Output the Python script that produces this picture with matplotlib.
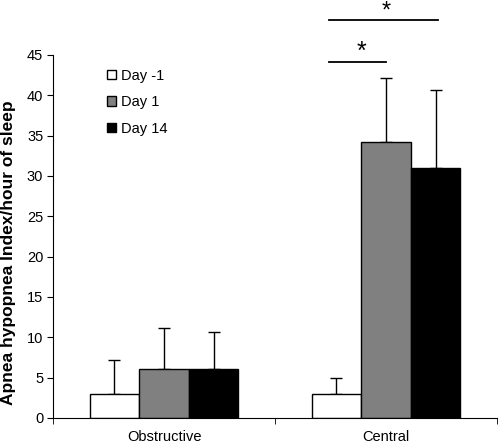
import numpy as np
import matplotlib
matplotlib.use('Agg')
import matplotlib.pyplot as plt

plt.rcParams['font.family'] = ['Liberation Sans', 'DejaVu Sans']

categories = ['Obstructive', 'Central']
series = ['Day -1', 'Day 1', 'Day 14']
means = {
    'Day -1': [3.0, 3.0],
    'Day 1': [6.0, 34.2],
    'Day 14': [6.1, 31.0],
}
errs = {
    'Day -1': [4.2, 1.9],
    'Day 1': [5.2, 7.9],
    'Day 14': [4.6, 9.7],
}
colors = ['white', '#808080', 'black']

fig = plt.figure(figsize=(5.0, 4.46), dpi=100)
ax = fig.add_axes([0.106, 0.063, 0.888, 0.814])

x = np.arange(len(categories))
width = 0.223
offsets = [-width, 0, width]

for name, off, c in zip(series, offsets, colors):
    ax.bar(x + off, means[name], width, color=c, edgecolor='black', linewidth=1,
           label=name, zorder=2)
    ax.errorbar(x + off, means[name], yerr=[np.zeros(len(x)), errs[name]],
                fmt='none', ecolor='black', elinewidth=1, capsize=4, capthick=1,
                zorder=1)

ax.set_xlim(-0.5, 1.5)
ax.set_ylim(0, 45)
ax.set_yticks(range(0, 46, 5))
ax.set_xticks(x)
ax.set_xticklabels(categories, fontsize=10.5)
ax.set_xticks([-0.5, 0.5, 1.5], minor=True)
ax.tick_params(axis='x', which='major', length=0, pad=9)
ax.tick_params(axis='x', which='minor', length=4, direction='out')
ax.tick_params(axis='y', length=4, direction='out', labelsize=10.5, pad=3)
ax.spines['top'].set_visible(False)
ax.spines['right'].set_visible(False)
ax.set_ylabel('Apnea hypopnea Index/hour of sleep', fontsize=12.5, fontweight='bold')
ax.yaxis.set_label_coords(-0.083, 0.455)

# significance markers (central group)
w_c = x[1] + offsets[0]
g_c = x[1] + offsets[1]
b_c = x[1] + offsets[2]
ax.plot([w_c - 0.035, g_c], [44.1, 44.1], color='black', lw=1.3, clip_on=False)
ax.plot([w_c - 0.035, b_c + 0.01], [49.3, 49.3], color='black', lw=1.3, clip_on=False)
ax.text((w_c + g_c) / 2, 44.5, '*', fontsize=18, ha='center', va='baseline')
ax.annotate('*', xy=((w_c + b_c) / 2, 0.999), xycoords=('data', 'figure fraction'),
            fontsize=17, ha='center', va='top')

ax.legend(loc='upper left', bbox_to_anchor=(0.2, 0.862), bbox_transform=fig.transFigure,
          frameon=False, fontsize=10.5, handlelength=0.6, handleheight=0.6,
          handletextpad=0.35, labelspacing=0.85, borderpad=0)

fig.savefig('out.png', dpi=100)
